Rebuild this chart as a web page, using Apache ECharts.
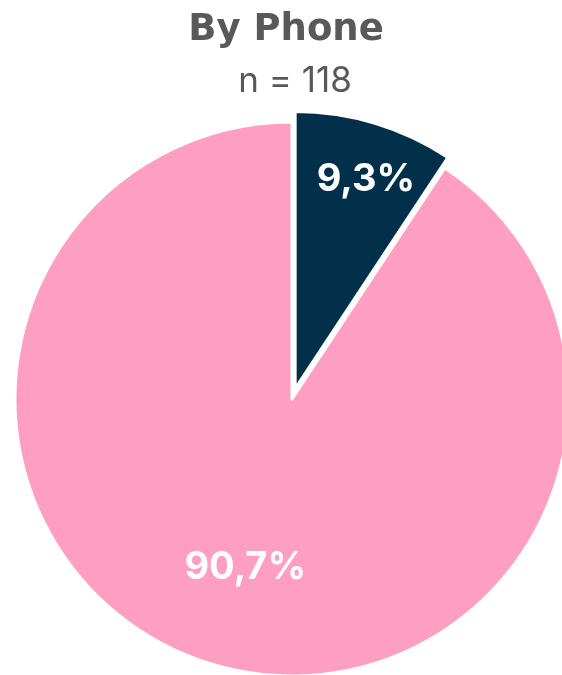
<!DOCTYPE html>
<html>
<head>
<meta charset="utf-8">
<script src="https://cdn.jsdelivr.net/npm/echarts@6/dist/echarts.min.js"></script>
<style>
html,body{margin:0;padding:0;background:#fff;}
#chart{width:562px;height:675px;}
</style>
</head>
<body>
<div id="chart"></div>
<script>
const titleText = 'By Phone';
const subtitleText = 'n = 118';
const categories = ['Yes', 'No'];
const values = [9.3, 90.7];
const colors = ['#02304a', '#fe9ec0'];
const labelTexts = ['9,3%', '90,7%'];

const chart = echarts.init(document.getElementById('chart'), null, {renderer: 'canvas'});
const labelShift = [[30, -73], [-6, 33]];
chart.setOption({
  animation: false,
  graphic: [
    {type: 'text', x: 286, y: 30, style: {text: titleText, textAlign: 'center', textVerticalAlign: 'middle',
      font: 'bold 37px "DejaVu Sans"', fill: '#595959'}},
    {type: 'text', x: 295, y: 81, style: {text: subtitleText, textAlign: 'center', textVerticalAlign: 'middle',
      font: 'normal 35px Inter', fill: '#595959'}}
  ],
  series: [{
    type: 'pie',
    center: [292, 399],
    radius: [0, 277],
    startAngle: 90,
    clockwise: true,
    selectedMode: 'single',
    selectedOffset: 11,
    itemStyle: {borderColor: '#ffffff', borderWidth: 3},
    label: {
      show: true,
      position: 'inside',
      color: '#ffffff',
      fontFamily: 'Inter',
      fontWeight: 'bold',
      fontSize: 38,
      formatter: p => labelTexts[p.dataIndex]
    },
    labelLayout: p => ({dx: labelShift[p.dataIndex][0], dy: labelShift[p.dataIndex][1]}),
    labelLine: {show: false},
    emphasis: {disabled: true},
    data: categories.map((c, i) => ({
      name: c,
      value: values[i],
      selected: i === 0,
      itemStyle: {color: colors[i]}
    }))
  }]
});
</script>
</body>
</html>
